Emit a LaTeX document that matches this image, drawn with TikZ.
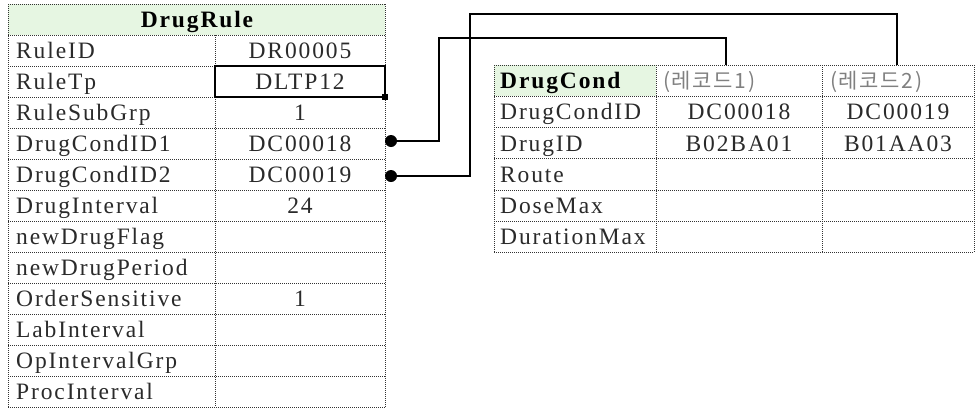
\documentclass[tikz,border=0pt]{standalone}
\usepackage{fontspec}
\setmainfont{Liberation Serif}[LetterSpace=8]
\newfontfamily\krfont{Noto Sans CJK KR}[LetterSpace=8]
\definecolor{hdrfill}{HTML}{E6F6E2}
\definecolor{gridc}{HTML}{333333}
\definecolor{txtc}{HTML}{2A2A2A}
\definecolor{krc}{HTML}{808080}
\tikzset{
  gridline/.style={draw=gridc, line width=0.9pt, dash pattern=on 1pt off 1pt},
  lbl/.style={anchor=west, inner sep=0pt, text height=15.5pt, text depth=0pt, text=txtc},
  val/.style={anchor=center, inner sep=0pt, text height=15.5pt, text depth=0pt, text=txtc},
  hdrtxt/.style={inner sep=0pt, text height=15.5pt, text depth=0pt, text=black, font=\fontsize{23.5}{23.5}\selectfont\bfseries},
  krtxt/.style={anchor=west, inner sep=0pt, text height=15.5pt, text depth=0pt, text=krc, font=\fontsize{21}{21}\selectfont\krfont},
  dotnode/.style={circle, fill=black, inner sep=0pt, minimum size=12pt},
  conn/.style={draw=black, line width=1.4pt}
}
\begin{document}
\begin{tikzpicture}[x=1pt,y=-1pt, font=\fontsize{23.5}{23.5}\selectfont]
\useasboundingbox (0,0) rectangle (975,410);
% ---------- left table DrugRule ----------
\fill[hdrfill] (8,4) rectangle (385,35);
\foreach \i in {0,...,13} {\draw[gridline] (8,4+31*\i) -- (385,4+31*\i);}
\draw[gridline] (8,4) -- (8,407);
\draw[gridline] (385,4) -- (385,407);
\draw[gridline] (215,35) -- (215,407);
\node[hdrtxt] (drhead) at (197,19.5) {DrugRule};
\foreach \t [count=\i] in {RuleID,RuleTp,RuleSubGrp,DrugCondID1,DrugCondID2,DrugInterval,newDrugFlag,newDrugPeriod,OrderSensitive,LabInterval,OpIntervalGrp,ProcInterval}
  {\node[lbl] (L\i) at (16,4+31*\i+15.5) {\t};}
\node[val] (V1) at (300,50.5) {DR00005};
\node[val] (V2) at (300,81.5) {DLTP12};
\node[val] (V3) at (300,112.5) {1};
\node[val] (V4) at (300,143.5) {DC00018};
\node[val] (V5) at (300,174.5) {DC00019};
\node[val] (V6) at (300,205.5) {24};
\node[val] (V9) at (300,298.5) {1};
% selected cell
\draw[line width=2pt] (215,66) rectangle (385,97);
\fill[black] (382,94) rectangle (388,100);
% ---------- right table DrugCond ----------
\fill[hdrfill] (494,65) rectangle (656,96.3);
\foreach \i in {0,...,6} {\draw[gridline] (494,65+31.3*\i) -- (974,65+31.3*\i);}
\foreach \x in {494,656,822,974} {\draw[gridline] (\x,65) -- (\x,252.8);}
\node[hdrtxt, anchor=west] (dchead) at (500,80.65) {DrugCond};
\node[krtxt] (rec1) at (663,80.65) {(레코드1)};
\node[krtxt] (rec2) at (830,80.65) {(레코드2)};
\foreach \t [count=\i] in {DrugCondID,DrugID,Route,DoseMax,DurationMax}
  {\node[lbl] (R\i) at (500,65+31.3*\i+15.65) {\t};}
\node[val] (A1) at (739,111.95) {DC00018};
\node[val] (B1) at (898,111.95) {DC00019};
\node[val] (A2) at (739,143.25) {B02BA01};
\node[val] (B2) at (898,143.25) {B01AA03};
% ---------- connectors ----------
\node[dotnode] (d1) at (391,141) {};
\node[dotnode] (d2) at (391,176) {};
\coordinate (b1) at (439,38);
\coordinate (b2) at (470,14);
\coordinate (t1) at (726,65);
\coordinate (t2) at (897,65);
\draw[conn] (d1) -| (b1) -| (t1);
\draw[conn] (d2) -| (b2) -| (t2);
\end{tikzpicture}
\end{document}
